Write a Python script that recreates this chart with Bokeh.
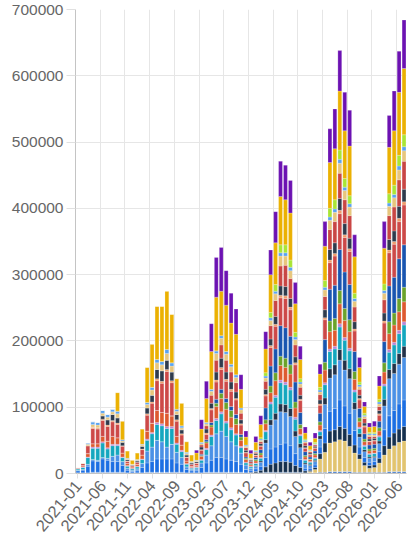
import math
from bokeh.plotting import figure
from bokeh.models import ColumnDataSource, FixedTicker, NumeralTickFormatter, Range1d
from bokeh.embed import file_html
from bokeh.resources import INLINE

# Monthly categories 2021-01 .. 2026-07
months = [f"{y}-{m:02d}" for y in range(2021, 2027) for m in range(1, 13)][:67]
tick_labels = ["2021-01", "2021-06", "2021-11", "2022-04", "2022-09", "2023-02", "2023-07",
               "2023-12", "2024-05", "2024-10", "2025-03", "2025-08", "2026-01", "2026-06"]

# Series values in thousands (bottom to top of the stack)
base = [1,1,1,2,2,2,2,2,2,2, 1,1,1,1,2,2,2,2,2,2, 2,2,1,1,1,1,2,2,2,2, 2,2,2,2,1,1,1,1,2,2,
        2,2,2,2,2,2,1,1,1,2, 2,3,3,3,3,3,2,2,2,2, 2,2,2,3,3,3,3]
tanb = [0,0,0,0,0,0,0,0,0,0, 0,0,0,0,0,0,0,0,0,0, 0,0,0,0,0,0,0,0,0,0, 0,0,0,0,0,0,0,0,0,0,
        0,0,0,0,0,0,0,2,5,20, 30,43,45,48,46,38,29,20,10,6, 7,14,26,34,39,44,46]
navy = [0,0,0,0,0,0,0,0,0,0, 0,0,0,0,0,0,0,0,0,0, 0,0,0,0,0,0,0,0,0,0, 0,0,0,0,0,1,2,4,8,12,
        14,16,16,15,10,7,3,2,3,8, 14,18,18,20,19,18,12,7,5,4, 4,7,14,18,19,20,22]
blue = [3,4,10,17,16,20,18,16,16,10, 4,2,3,8,14,16,20,20,20,20, 14,12,5,3,3,8,14,18,22,22,
        20,18,16,12,5,3,4,6,14,23, 24,26,28,25,18,12,4,3,4,10, 22,30,32,40,34,32,22,11,7,5,
        5,10,24,32,34,38,40]
lblue = [1,1,3,2,2,2,3,8,10,6, 3,2,3,6,18,22,28,26,18,22, 16,10,4,2,3,7,12,22,36,40,
         34,28,24,17,7,3,4,6,22,36, 41,49,46,44,26,18,6,4,5,12, 36,50,51,60,54,52,32,15,9,6,
         6,12,36,56,56,60,64]
navy2 = [0,0,0,0,0,0,0,0,0,0, 0,0,0,0,0,0,0,0,0,0, 0,0,0,0,0,0,0,0,0,0, 0,0,0,0,0,0,1,2,5,8,
         10,12,12,12,8,6,2,2,2,5, 10,14,15,16,15,15,10,5,3,2, 2,4,10,14,15,16,17]
teal = [2,3,10,17,18,22,14,16,14,6, 3,2,3,6,16,20,24,24,28,24, 12,9,4,2,2,4,8,14,20,26,
        20,18,16,8,3,2,3,4,12,24, 24,32,30,28,18,12,4,3,3,6, 20,26,24,34,30,27,16,8,5,4,
        4,6,20,26,28,30,32]
pink = [0,1,1,2,2,2,2,2,2,1, 1,1,1,1,2,2,3,3,3,3, 2,2,1,1,1,1,2,2,3,3, 3,3,2,2,1,1,1,1,2,3,
        3,4,4,4,3,2,1,1,1,2, 3,4,4,5,4,4,3,2,2,1, 1,2,3,4,4,5,5]
orange = [1,2,5,5,5,8,10,12,10,6, 3,2,3,6,12,14,18,17,20,16, 10,8,4,2,2,5,8,12,18,20,
          18,16,14,9,4,2,3,4,10,14, 22,22,22,20,14,9,4,3,4,8, 19,26,24,30,26,25,16,8,5,4,
          4,7,18,24,26,28,30]
green = [0,0,0,0,0,0,0,0,0,0, 0,0,0,0,0,0,0,0,0,0, 0,0,0,0,0,1,2,3,5,8, 10,10,9,5,2,1,2,3,6,10,
         12,14,14,14,9,6,2,1,2,5, 12,16,18,20,18,18,12,6,4,3, 3,5,14,18,18,20,22]
dblue = [0,0,0,0,0,0,0,0,0,0, 0,0,0,0,0,0,0,0,0,0, 0,0,0,0,0,2,3,4,6,6, 6,6,6,4,2,1,3,5,18,30,
         36,46,46,43,30,18,6,3,4,13, 34,48,50,62,55,53,30,14,8,6, 6,10,32,54,54,60,64]
red = [1,3,12,23,22,24,22,22,20,10, 3,2,3,8,24,30,45,44,63,50, 23,15,5,3,3,6,8,19,26,30,
       26,23,22,14,6,3,3,5,18,28, 34,42,44,40,26,18,5,3,4,12, 30,40,44,54,52,50,31,13,10,5,
       5,9,28,50,50,56,60]
salmon = [0,0,0,2,2,2,2,2,2,1, 1,0,0,1,2,2,3,3,3,3, 2,2,1,0,1,1,2,2,3,3, 3,3,2,2,1,0,1,1,2,3,
          3,4,4,4,3,2,1,1,1,2, 3,4,4,5,4,4,3,2,2,1, 1,2,3,4,4,5,5]
slate = [0,0,0,0,0,5,8,9,8,5, 2,1,2,4,9,10,14,16,14,13, 8,6,3,2,2,4,6,8,12,14,
         11,11,10,6,3,2,2,3,8,10, 12,14,14,13,9,6,3,2,2,6, 12,16,16,18,17,16,11,5,4,3,
         3,5,12,16,16,18,19]
red2 = [0,0,0,0,0,0,0,0,0,0, 0,0,0,0,0,0,0,0,0,0, 0,0,0,0,0,3,5,12,18,20,
        18,15,14,10,4,1,2,3,12,20, 24,30,32,30,18,12,4,2,2,8, 20,30,32,38,36,34,22,9,7,4,
        3,6,20,36,36,40,42]
tan = [0,1,2,4,4,4,4,4,6,2, 1,1,1,2,5,8,10,9,10,9, 5,3,2,1,1,2,3,6,10,10, 9,8,8,5,2,1,1,2,5,8,
       10,15,14,12,8,5,2,1,1,4, 10,14,14,15,14,13,9,4,3,2, 2,4,10,14,14,15,16]
lb2 = [0,0,2,4,4,4,4,4,4,2, 1,0,1,1,3,4,5,5,6,5, 3,3,2,1,1,2,2,3,4,4, 4,4,4,3,2,1,1,2,3,4,
       4,5,5,5,4,3,2,1,1,3, 4,5,5,6,5,5,4,3,2,2, 2,3,4,5,5,6,6]
lime = [0,0,0,0,0,0,0,0,0,0, 0,0,0,0,0,0,0,0,0,0, 0,0,0,0,0,0,0,0,0,0, 0,0,0,0,0,0,1,2,5,8,
        10,12,12,11,7,5,2,1,2,4, 10,13,14,14,13,12,8,4,3,2, 2,4,10,14,14,16,18]
yellow = [0,0,0,0,0,0,0,0,28,28, 11,6,10,23,53,65,80,83,88,73, 46,34,16,10,11,20,36,57,81,67,
          70,62,61,28,12,7,12,20,36,57, 63,73,68,71,43,29,9,6,6,20, 52,69,77,89,72,75,55,22,10,8,
          9,20,54,70,82,95,100]
purple = [0,0,0,0,0,0,0,0,0,0, 0,0,0,0,0,0,0,0,0,0, 0,0,0,0,4,14,26,42,60,66,
          52,45,38,22,9,5,9,13,26,37, 47,53,52,49,32,20,9,5,8,15, 37,51,60,61,58,54,33,15,7,6,
          8,15,40,48,60,62,73]

series = [
    ("base", base, "#5b8bd0"), ("tanb", tanb, "#e2c46f"), ("navy", navy, "#15304e"),
    ("blue", blue, "#1c6fe3"), ("lblue", lblue, "#4b91e6"), ("navy2", navy2, "#223249"),
    ("teal", teal, "#14a7bf"), ("pink", pink, "#b685d8"), ("orange", orange, "#de5a30"),
    ("green", green, "#6ba32b"), ("dblue", dblue, "#1955b0"), ("red", red, "#cd4948"),
    ("salmon", salmon, "#ef9a6a"), ("slate", slate, "#2f3b4d"), ("red2", red2, "#c94644"),
    ("tan", tan, "#e7c67d"), ("lb2", lb2, "#5aa3f0"), ("lime", lime, "#a9e535"),
    ("yellow", yellow, "#ebb102"), ("purple", purple, "#6c12b2"),
]

data = {"x": list(range(len(months)))}
for name, vals, _ in series:
    data[name] = [v * 1000 for v in vals]
source = ColumnDataSource(data)

p = figure(width=408, height=539, output_backend="svg", toolbar_location=None,
           x_range=Range1d(-0.5, len(months) - 0.5), y_range=Range1d(0, 700000),
           min_border_left=75, min_border_right=2, min_border_top=9, min_border_bottom=64)
p.outline_line_color = None
p.background_fill_color = "white"

p.vbar_stack([s[0] for s in series], x="x", width=0.78, source=source,
             color=[s[2] for s in series], line_color="white", line_alpha=0.35, line_width=0.6)

tick_idx = [months.index(t) for t in tick_labels]
p.xaxis.ticker = FixedTicker(ticks=tick_idx)
p.xaxis.major_label_overrides = {i: months[i] for i in tick_idx}
p.xaxis.major_label_orientation = 0.87
p.xaxis.major_tick_out = 5
p.xaxis.major_tick_in = 0
p.xaxis.minor_tick_out = 0
p.xaxis.major_label_standoff = 4

p.yaxis.ticker = FixedTicker(ticks=[0, 100000, 200000, 300000, 400000, 500000, 600000, 700000])
p.yaxis.formatter = NumeralTickFormatter(format="0")
p.yaxis.major_tick_out = 9
p.yaxis.major_tick_in = 0
p.yaxis.minor_tick_out = 0
p.yaxis.major_label_standoff = 3

for ax in (p.xaxis, p.yaxis):
    ax.axis_line_color = "#c4c4c4"
    ax.major_tick_line_color = "#e0e0e0"
    ax.major_label_text_color = "#666666"
    ax.major_label_text_font = "Liberation Sans"
p.yaxis.major_label_text_font_size = "15.5px"
p.xaxis.major_label_text_font_size = "16.5px"

p.xgrid.ticker = FixedTicker(ticks=[i - 0.5 for i in tick_idx])
p.xgrid.grid_line_color = "#e6e6e6"
p.ygrid.grid_line_color = "#e6e6e6"

open("out.html", "w").write(file_html(p, INLINE))
